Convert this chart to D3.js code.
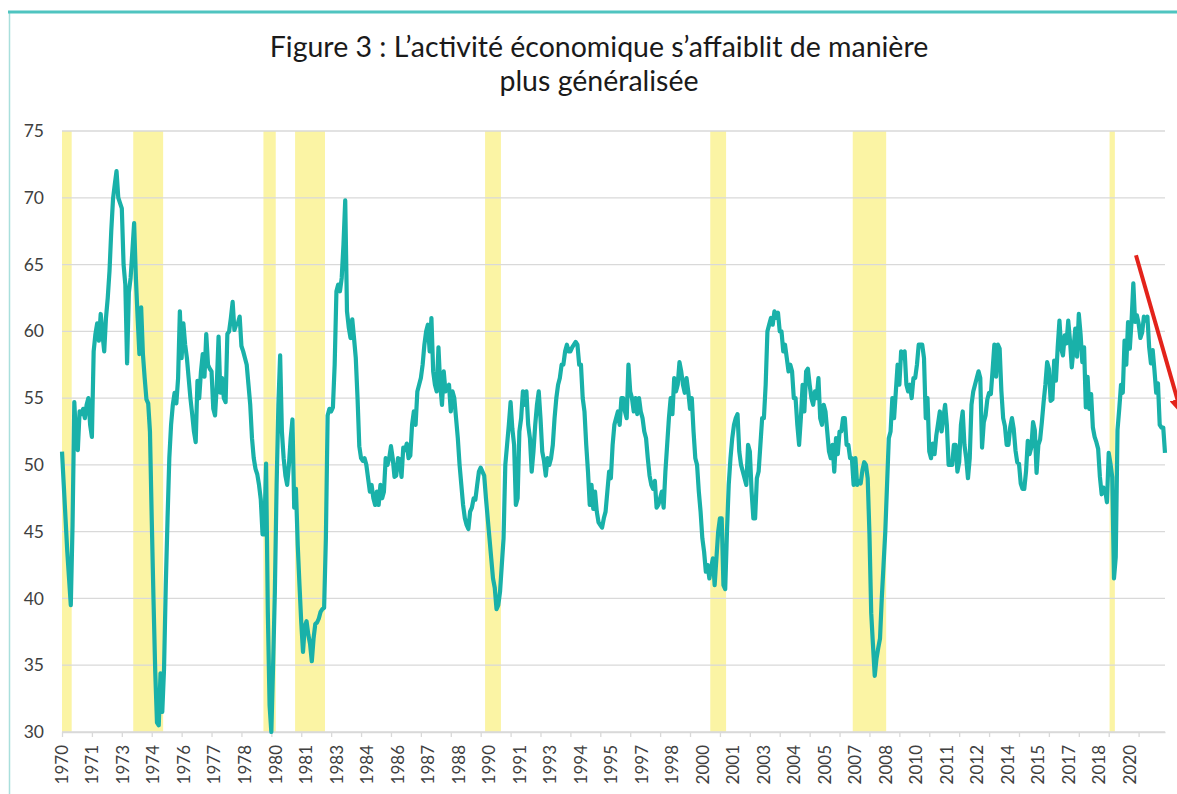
<!DOCTYPE html>
<html lang="fr">

<head>
    <meta charset="utf-8">
    <title>Figure 3</title>
    <script src="https://d3js.org/d3.v7.min.js"></script>
    <style>
        body { margin: 0; background: #fff; }
        text { font-family: Lato, "Open Sans", sans-serif; fill: #404040; }
    </style>
</head>

<body>
<div id="chart"></div>

<script>
    // Monthly index, first value = June 1970
    var startYear = 1970, startMonth = 6;

    var pmi70s = [
        51, 48.5, 46, 43.5, 41.5, 39.5, 45.5,
        54.7, 52, 51.1, 54, 53.8, 54.2, 53.5, 54.5, 55, 53, 52.1, 58.5,
        59.8, 60.6, 59.3, 61.3, 59.8, 58.5, 61, 62.5, 64.5, 67.5, 69.9, 71,
        72, 70, 69.6, 69.2, 65, 63.5, 57.6, 62.9, 64, 66, 68.1, 64,
        61, 58.3, 61.8, 58.3, 56.5, 54.9, 54.6, 52.5, 46, 40, 34.5, 30.7,
        30.5, 34.4, 31.5, 34.7, 41, 46, 50.5, 53, 54.5, 55.4, 54.6, 56.5,
        61.5, 58, 60.6, 59, 58, 56.5, 55, 53.8, 52.5, 51.7, 56.3, 55,
        57, 58.3, 56.6, 59.8, 57.5, 57.2, 57, 54.2, 53.7, 56, 59.6, 55.4,
        56.5, 55, 54.7, 59.8, 60, 61, 62.2, 60.1, 60.5, 60.6, 61.1, 58.9,
        58.5, 58, 57.5, 56, 54.5, 52, 50.5, 49.7, 49.3, 48.5, 47.4, 44.8
    ];
    var pmi80s = [
        44.8, 50.1, 39, 32, 30, 35, 40.5, 48.5, 54.5, 58.2, 52.5, 50.5,
        49.2, 48.5, 50, 52, 53.4, 46.8, 48.2, 44, 41, 38.2, 36, 37.9,
        38.3, 37.3, 36.6, 35.3, 37, 38.1, 38.2, 38.5, 39, 39.2, 39.3, 44.5,
        53.7, 54.2, 54, 54.3, 57.5, 63, 63.5, 63, 64, 66.5, 69.8, 61.5,
        60.3, 59.5, 60.9, 59.5, 58, 55, 51.4, 50.5, 50.3, 50.5, 50, 49,
        48, 48.5, 47.5, 47, 48, 47, 48.5, 47.5, 48, 50.5, 50, 50.5,
        51.4, 50.5, 49.1, 49.2, 50.5, 50.4, 49.1, 51.3, 51.1, 51.6, 50.5, 50.7,
        53, 54, 53, 55.5, 56, 56.5, 57.5, 59, 60, 60.5, 58.5, 61,
        57, 56, 55.5, 58.8, 56, 54.5, 57, 55.5, 55.8, 56, 54, 55.5,
        55, 53.5, 52, 50, 48.5, 47, 46, 45.5, 45.2, 46.5, 46.8, 47.5
    ];
    var pmi90s = [
        47.4, 48.5, 49.5, 49.8, 49.5, 49.2, 47.5, 46, 44.5, 43, 41.5, 40.8,
        39.2, 39.5, 40.5, 42.5, 44.5, 50, 51.5, 53, 54.7, 52.7, 51.5, 47,
        47.5, 52.5, 53.5, 55.5, 54.5, 55.5, 53, 52, 49.5, 51, 53, 54.5,
        55.5, 53.5, 51, 50.3, 49.2, 50.5, 50, 50.5, 51.5, 53.5, 55, 56,
        56.5, 57.5, 57.5, 58.5, 59, 58.5, 58.5, 58.8, 59, 59.2, 59, 57.5,
        57.5, 55, 54, 51.5, 49.5, 47, 48.5, 46.7, 48, 46.5, 45.7, 45.5,
        45.3, 46, 46.5, 48, 49.5, 49, 51.5, 53, 53.5, 54, 53, 55,
        55, 54, 53.5, 57.5, 55.5, 55, 54, 55, 53.8, 55, 54, 53.5,
        52.5, 52, 50.5, 49.2, 48.5, 48.2, 48.8, 46.8, 47, 47.5, 48, 46.8,
        49.5, 51.5, 53.5, 55, 53.8, 56.5, 55.5, 56, 57.7, 57, 56, 55.4
    ];
    var pmi00s = [
        56.5, 55.5, 54.2, 55, 52.5, 50.5, 50, 48, 46.5, 44.5, 43.5, 42,
        42.5, 41.5, 42.3, 43, 41, 43, 45, 46, 46, 41, 40.7, 45,
        48.5, 50.5, 52, 53, 53.5, 53.8, 51, 50, 49.5, 49, 48.5, 51.5,
        51, 48, 46, 46, 49, 49.5, 51.5, 53.5, 53.5, 56, 60, 60.5,
        61, 60.5, 61.5, 61, 61.4, 60, 60, 58.5, 59, 58, 57, 57.5,
        57, 55, 55, 53, 51.5, 53.5, 56, 54, 57, 57.2, 56, 55,
        54.5, 55.5, 55, 56.5, 53.5, 53, 54.5, 54, 52.5, 51, 50.5, 51.5,
        49.5, 52, 50.8, 52.5, 52.5, 53.5, 53.5, 51.5, 51.5, 50.5, 50.5, 48.5,
        50.5, 48.5, 48.8, 48.6, 49.6, 50.2, 50, 49, 44.8, 38.9, 36.5, 34.2,
        35.5, 36.3, 37, 40, 42.5, 45, 48.5, 52, 52.5, 55, 53.5, 55.5
    ];
    var pmi10s = [
        57.5, 56, 58.5, 58, 58.5, 56, 55.5, 56, 55, 56.5, 56.5, 57.5,
        59, 59, 59, 58, 53.5, 55, 51, 50.5, 51.6, 50.8, 52.2, 53.1,
        54, 52.5, 53.5, 54.5, 53, 50, 50, 50, 51.5, 51.5, 49.5, 50.2,
        53, 54, 51.5, 50.5, 49, 50.5, 54.5, 55.5, 56, 56.5, 57, 56.5,
        51.3, 53.2, 53.7, 54.9, 55.4, 55.3, 57.1, 59, 56.6, 59, 58.7, 55.5,
        53.5, 52.9, 51.5, 51.5, 52.8, 53.5, 52.7, 51.1, 50.2, 50.1, 48.6, 48.2,
        48.2, 49.5, 51.8, 50.8, 51.3, 53.2, 52.6, 49.4, 51.5, 51.9, 53.2, 54.7,
        56, 57.7, 57.2, 54.8, 54.9, 57.8, 56.3, 58.8, 60.8, 58.7, 58.2, 59.7,
        59.1, 60.8, 59.3, 57.3, 58.7, 60.2, 58.1, 61.3, 59.8, 57.7, 58.8, 54.3,
        56.6, 54.2, 55.3, 52.8, 52.1, 51.7, 51.2, 49.1, 47.8, 48.3, 48.1, 47.2
    ];
    var pmi20s = [
        50.9, 50.1, 49.1, 41.5, 43.1, 52.6, 54.2, 56, 55.4, 59.3, 57.5, 60.7,
        58.7, 60.8, 63.6, 60.7, 61.2, 60.6, 59.5, 59.9, 61.1, 60.8, 61.1, 58.8,
        57.6, 58.6, 57.1, 55.4, 56.1, 53, 52.8, 52.8, 50.9
    ];

    // Recessions (shaded), first and last month
    var recStart = ["1970-06", "1973-11", "1980-01", "1981-07", "1990-07", "2001-03", "2007-12", "2020-02"];
    var recEnd = ["1970-11", "1975-03", "1980-07", "1982-11", "1991-03", "2001-11", "2009-06", "2020-04"];

    // Category axis labels (one every 17 months)
    var yearLabels = ["1970", "1971", "1973", "1974", "1976", "1977", "1978", "1980", "1981", "1983",
        "1984", "1986", "1987", "1988", "1990", "1991", "1993", "1994", "1995", "1997", "1998",
        "2000", "2001", "2003", "2004", "2005", "2007", "2008", "2010", "2011", "2012", "2014",
        "2015", "2017", "2018", "2020"];
    var labelStep = 17;
    var yTicks = [30, 35, 40, 45, 50, 55, 60, 65, 70, 75];

    // arrow (month index, value)
    var arrowFrom = [610.5, 65.7], arrowTo = [636, 54];

    var values = pmi70s.concat(pmi80s, pmi90s, pmi00s, pmi10s, pmi20s);

    function monthIndex(s) {
        var p = s.split("-");
        return (+p[0] - startYear) * 12 + (+p[1] - startMonth);
    }

    var W = 1177, H = 794;
    var margin = { top: 131, right: 12, bottom: 62, left: 62 };

    var svg = d3.select("#chart")
        .append("svg")
        .attr("width", W)
        .attr("height", H);

    // frame
    svg.append("line")
        .attr("x1", 9.5).attr("x2", 9.5).attr("y1", 12).attr("y2", H)
        .attr("stroke", "#a9dfdc").attr("stroke-width", 1.5);
    svg.append("line")
        .attr("x1", 8).attr("x2", W).attr("y1", 12).attr("y2", 12)
        .attr("stroke", "#4fc4c0").attr("stroke-width", 3);

    // title
    var title = svg.append("text")
        .attr("text-anchor", "middle")
        .style("font-size", "28.5px")
        .style("fill", "#1a1a1a");
    title.append("tspan").attr("x", 599).attr("y", 57)
        .text("Figure 3 : L\u2019activit\u00e9 \u00e9conomique s\u2019affaiblit de mani\u00e8re");
    title.append("tspan").attr("x", 599).attr("y", 91)
        .text("plus g\u00e9n\u00e9ralis\u00e9e");

    var x = d3.scaleLinear()
        .domain([0, values.length - 1])
        .range([margin.left, W - margin.right]);

    var y = d3.scaleLinear()
        .domain([30, 75])
        .range([H - margin.bottom, margin.top]);

    // recession bands
    svg.append("g")
        .selectAll("rect")
        .data(recStart)
        .join("rect")
        .attr("x", (d) => Math.max(x(monthIndex(d) - 0.5), x(0)))
        .attr("width", (d, i) => x(monthIndex(recEnd[i]) + 0.5) - Math.max(x(monthIndex(d) - 0.5), x(0)))
        .attr("y", y(75))
        .attr("height", y(30) - y(75))
        .attr("fill", "#fbf4a4");

    // gridlines
    svg.append("g")
        .selectAll("line")
        .data(yTicks)
        .join("line")
        .attr("x1", x(0))
        .attr("x2", x(values.length - 1))
        .attr("y1", (d) => y(d))
        .attr("y2", (d) => y(d))
        .attr("stroke", "#d9d9d9")
        .attr("stroke-width", 1.3);

    // y labels
    svg.append("g")
        .selectAll("text")
        .data(yTicks)
        .join("text")
        .attr("x", 44)
        .attr("y", (d) => y(d))
        .attr("dy", "0.35em")
        .attr("text-anchor", "end")
        .style("font-size", "17.5px")
        .text((d) => d);

    // bottom axis: ticks every 17 months
    var xAxis = svg.append("g")
        .attr("transform", "translate(0," + y(30) + ")")
        .call(d3.axisBottom(x)
            .tickValues(d3.range(0, values.length, labelStep))
            .tickSize(5)
            .tickSizeOuter(0)
            .tickFormat(""));
    xAxis.select(".domain").attr("stroke", "#d9d9d9").attr("stroke-width", 1.3);
    xAxis.selectAll(".tick line").attr("stroke", "#d9d9d9").attr("stroke-width", 1.3);

    // year labels
    var labelX = d3.scaleLinear()
        .domain([0, yearLabels.length - 1])
        .range([x(0), x(607)]);

    svg.append("g")
        .selectAll("text")
        .data(yearLabels)
        .join("text")
        .attr("transform", (d, i) => "translate(" + labelX(i) + "," + (y(30) + 13) + ") rotate(-90)")
        .attr("text-anchor", "end")
        .attr("dy", "0.35em")
        .style("font-size", "17px")
        .text((d) => d);

    // PMI line
    var line = d3.line()
        .x((d, i) => x(i))
        .y((d) => y(d));

    svg.append("path")
        .datum(values)
        .attr("d", line)
        .attr("fill", "none")
        .attr("stroke", "#19b1a9")
        .attr("stroke-width", 4.2)
        .attr("stroke-linejoin", "round");

    // red arrow
    svg.append("defs").append("marker")
        .attr("id", "head")
        .attr("viewBox", "0 0 10 10")
        .attr("refX", 8).attr("refY", 5)
        .attr("markerWidth", 4).attr("markerHeight", 4)
        .attr("orient", "auto")
        .append("path")
        .attr("d", "M0,0 L10,5 L0,10 z")
        .attr("fill", "#e3231b");

    svg.append("line")
        .attr("x1", x(arrowFrom[0])).attr("y1", y(arrowFrom[1]))
        .attr("x2", x(arrowTo[0])).attr("y2", y(arrowTo[1]))
        .attr("stroke", "#e3231b")
        .attr("stroke-width", 4)
        .attr("marker-end", "url(#head)");
</script>
</body>

</html>
